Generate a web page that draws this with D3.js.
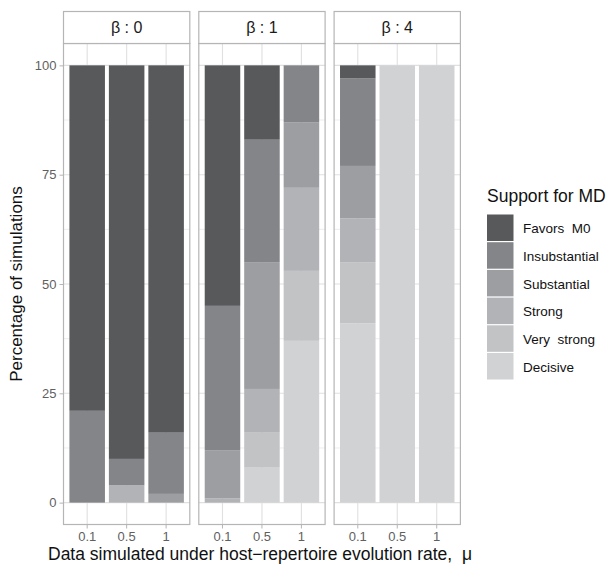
<!DOCTYPE html>
<html lang="en">
<head>
<meta charset="UTF-8">
<title>Support for MD</title>
<style>
  body { margin: 0; background: #fff; }
  text { font-family: "Liberation Sans", Arial, sans-serif; white-space: pre; }
</style>
</head>
<body>
<script src="https://d3js.org/d3.v7.min.js"></script>
<svg id="vis"></svg>
<script>
// Data
const levels = ['Favors  M0', 'Insubstantial', 'Substantial', 'Strong', 'Very  strong', 'Decisive']
const levelColors = ['#58595b', '#848588', '#9d9ea1', '#b2b3b6', '#c2c3c5', '#d1d2d4']
const muLabels = ['0.1', '0.5', '1']
const betaLabels = ['β : 0', 'β : 1', 'β : 4']
const yTicks = [0, 25, 50, 75, 100]
// percentage per level (same order as levels), one row per mu
const beta0 = [[79, 21, 0, 0, 0, 0], [90, 6, 0, 4, 0, 0], [84, 14, 2, 0, 0, 0]]
const beta1 = [[55, 33, 11, 1, 0, 0], [17, 28, 29, 10, 8, 8], [0, 13, 15, 19, 16, 37]]
const beta4 = [[3, 20, 12, 10, 14, 41], [0, 0, 0, 0, 0, 100], [0, 0, 0, 0, 0, 100]]
const panelsData = [beta0, beta1, beta4]

// Layout
const width = 608, height = 565
const panelLeft = 63.5, panelW = 126.3, panelGap = 9
const stripTop = 11.5, stripBottom = 43.5, plotBottom = 524.5
const grid = '#e0e0e0', border = '#b5b5b5'

const svg = d3.select('#vis').attr('width', width).attr('height', height)

const y = d3.scaleLinear().domain([-5, 105]).range([plotBottom, stripBottom])
const x = d3.scaleBand().domain(muLabels).range([0, panelW]).paddingInner(0.1).paddingOuter(0.15)

const stack = d3.stack().keys(d3.range(levels.length).reverse()).value((row, k) => row[k])

panelsData.forEach((rows, p) => {
    const g = svg.append('g').attr('transform', `translate(${panelLeft + p * (panelW + panelGap)},0)`)

    // minor + major gridlines
    const minor = yTicks.slice(0, -1).map(t => t + 12.5)
    g.selectAll('.minor').data(minor).enter().append('line')
        .attr('x1', 0).attr('x2', panelW)
        .attr('y1', d => y(d)).attr('y2', d => y(d))
        .attr('stroke', grid).attr('stroke-width', 0.6)
    g.selectAll('.major').data(yTicks).enter().append('line')
        .attr('x1', 0).attr('x2', panelW)
        .attr('y1', d => y(d)).attr('y2', d => y(d))
        .attr('stroke', grid).attr('stroke-width', 1.1)
    g.selectAll('.vgrid').data(muLabels).enter().append('line')
        .attr('x1', d => x(d) + x.bandwidth() / 2).attr('x2', d => x(d) + x.bandwidth() / 2)
        .attr('y1', stripBottom).attr('y2', plotBottom)
        .attr('stroke', grid).attr('stroke-width', 1.1)

    // stacked bars
    const series = stack(rows)
    series.forEach(s => {
        g.selectAll(null).data(s).enter().append('rect')
            .attr('x', (d, i) => x(muLabels[i]))
            .attr('width', x.bandwidth())
            .attr('y', d => y(d[1]))
            .attr('height', d => y(d[0]) - y(d[1]))
            .attr('fill', levelColors[s.key])
    })

    // panel border
    g.append('rect').attr('x', 0).attr('y', stripBottom).attr('width', panelW)
        .attr('height', plotBottom - stripBottom)
        .attr('fill', 'none').attr('stroke', border).attr('stroke-width', 1.2)

    // strip
    g.append('rect').attr('x', 0).attr('y', stripTop).attr('width', panelW)
        .attr('height', stripBottom - stripTop)
        .attr('fill', '#fff').attr('stroke', border).attr('stroke-width', 1.2)
    g.append('text').attr('x', panelW / 2).attr('y', (stripTop + stripBottom) / 2 + 5.5)
        .attr('text-anchor', 'middle').attr('font-size', 16).attr('fill', '#1a1a1a')
        .text(betaLabels[p])

    // x axis
    const xAxis = g.append('g').attr('transform', `translate(0,${plotBottom})`)
        .call(d3.axisBottom(x).tickSize(4).tickPadding(3))
    xAxis.select('.domain').remove()
    xAxis.selectAll('line').attr('stroke', border)
    xAxis.selectAll('text').attr('font-size', 13).attr('fill', '#5f5f5f')
        .style('font-family', '"Liberation Sans", Arial, sans-serif')
})

// y axis
const yAxis = svg.append('g').attr('transform', `translate(${panelLeft},0)`)
    .call(d3.axisLeft(y).tickValues(yTicks).tickSize(4).tickPadding(3))
yAxis.select('.domain').remove()
yAxis.selectAll('line').attr('stroke', border)
yAxis.selectAll('text').attr('font-size', 13).attr('fill', '#5f5f5f')
    .style('font-family', '"Liberation Sans", Arial, sans-serif')

// axis titles
svg.append('text').attr('x', 260).attr('y', 560).attr('text-anchor', 'middle')
    .attr('font-size', 17.5).attr('fill', '#111')
    .text('Data simulated under host\u2212repertoire evolution rate,  μ')
svg.append('text').attr('transform', `translate(22,${(stripBottom + plotBottom) / 2}) rotate(-90)`)
    .attr('text-anchor', 'middle').attr('font-size', 17).attr('fill', '#111')
    .text('Percentage of simulations')

// legend
const legend = svg.append('g').attr('transform', 'translate(487,0)')
legend.append('text').attr('x', 0).attr('y', 202).attr('font-size', 17.5).attr('fill', '#111')
    .text('Support for MD')
const keyStep = 27.7, keyTop = 214.5
legend.selectAll('.key').data(levels).enter().append('rect')
    .attr('x', 0).attr('y', (d, i) => keyTop + i * keyStep)
    .attr('width', 26.5).attr('height', keyStep - 1.2)
    .attr('fill', (d, i) => levelColors[i])
legend.selectAll('.lab').data(levels).enter().append('text')
    .attr('x', 36).attr('y', (d, i) => keyTop + i * keyStep + keyStep / 2 + 5)
    .attr('font-size', 13.5).attr('fill', '#111')
    .text(d => d)
</script>
</body>
</html>
